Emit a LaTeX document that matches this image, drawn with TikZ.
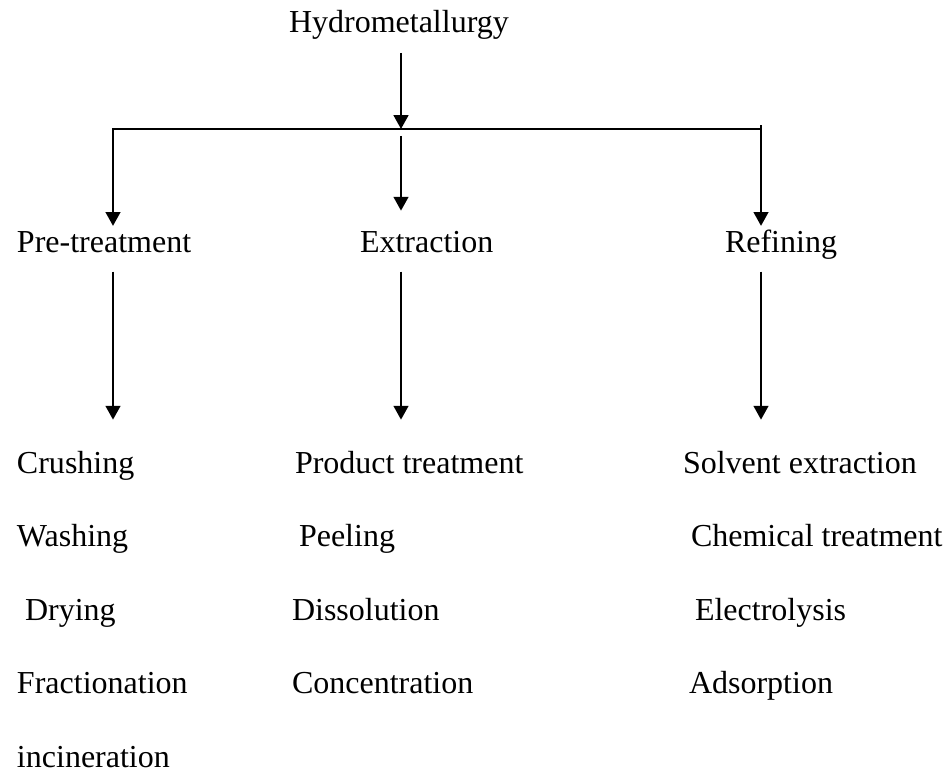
\documentclass[tikz,border=0pt]{standalone}
\usepackage{fontspec}
\setmainfont{Liberation Serif}
\usetikzlibrary{arrows.meta,positioning}

\begin{document}
\begin{tikzpicture}[x=0.375pt, y=-0.375pt,
  every node/.style={font=\fontsize{12}{14}\selectfont, inner sep=0pt, outer sep=0pt,
                     anchor=base west, text height=0.7em, text depth=0.25em},
  arr/.style={line width=0.9pt, -{Triangle[width=5.5pt,length=5.2pt]}}]
  \useasboundingbox (0,0) rectangle (951,775);

  % headings
  \node (hydro) at (289,32) {Hydrometallurgy};
  \node (pre) at (17,252) {Pre-treatment};
  \node (ext) at (360,252) {Extraction};
  \node (ref) at (725,252) {Refining};

  \coordinate (bl) at (113,129);
  \coordinate (bm) at (401,129);
  \coordinate (br) at (761,129);

  % lists under each heading
  \foreach \name/\lbl/\x/\y in {%
      c1/Crushing/17/473,
      c2/Washing/17/546,
      c3/Drying/25/620,
      c4/Fractionation/17/693,
      c5/incineration/17/767,
      e1/Product treatment/295/473,
      e2/Peeling/299/546,
      e3/Dissolution/292/620,
      e4/Concentration/292/693,
      r1/Solvent extraction/683/473,
      r2/Chemical treatment/691/546,
      r3/Electrolysis/695/620,
      r4/Adsorption/689/693}{
    \node (\name) at (\x,\y) {\lbl};
  }

  \draw[arr, shorten <=5.3pt] (hydro.south -| bm) -- (bm);
  \draw[arr, shorten >=2.8pt] (br) -- (bl) -- (bl |- pre.north);
  \draw[arr, shorten >=2.8pt] (br) ++(0,-4) -- (br |- ref.north);
  \draw[arr, shorten <=2.6pt, shorten >=8.5pt] (bm) -- (bm |- ext.north);
  \foreach \top/\bot/\x in {pre/c1/bl, ext/e1/bm, ref/r1/br}
    \draw[arr, shorten <=4.9pt, shorten >=13pt] (\top.south -| \x) -- (\bot.north -| \x);
\end{tikzpicture}
\end{document}
